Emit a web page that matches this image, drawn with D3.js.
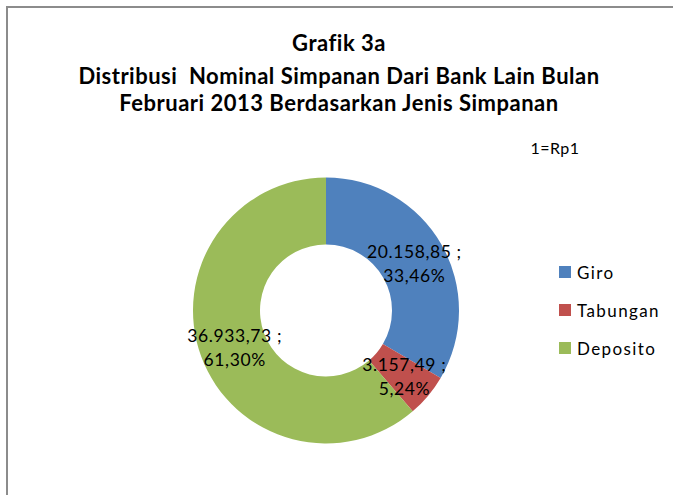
<!DOCTYPE html>
<html>
<head>
<meta charset="utf-8">
<script src="https://cdn.jsdelivr.net/npm/d3@7"></script>
<style>
  body { margin: 0; background: #fff; }
  text { font-family: Lato, "Open Sans", sans-serif; fill: #000; }
</style>
</head>
<body>
<div id="chart"></div>
<script>
var categories = ["Giro", "Tabungan", "Deposito"];
var values = [20158.85, 3157.49, 36933.73];
var colors = ["#4F81BD", "#C0504D", "#9BBB59"];
var titleLines = ["Grafik 3a", "Distribusi  Nominal Simpanan Dari Bank Lain Bulan", "Februari 2013 Berdasarkan Jenis Simpanan"];
var unitNote = "1=Rp1";

var width = 673, height = 495;

var svg = d3.select('#chart')
  .append('svg')
  .attr('width', width)
  .attr('height', height);

// chart area border (top + left visible, rest cut off)
svg.append('path')
  .attr('d', 'M7,' + height + 'V7H' + width)
  .attr('fill', 'none')
  .attr('stroke', '#8c8c8c')
  .attr('stroke-width', 2);

// title
svg.selectAll('.title')
  .data(titleLines)
  .enter()
  .append('text')
  .attr('class', 'title')
  .attr('x', 339)
  .attr('y', function(d, i){ return [51, 84, 111][i]; })
  .attr('text-anchor', 'middle')
  .attr('font-weight', 'bold')
  .attr('font-size', 22)
  .attr('letter-spacing', 0.5)
  .style('white-space', 'pre')
  .text(function(d){ return d; });

svg.append('text')
  .attr('x', 555)
  .attr('y', 154)
  .attr('text-anchor', 'middle')
  .attr('font-size', 16)
  .attr('letter-spacing', 0.5)
  .text(unitNote);

var locale = d3.formatLocale({decimal: ",", thousands: ".", grouping: [3], currency: ["Rp", ""]});
var fmtVal = locale.format(",.2f");
var fmtPct = locale.format(".2%");
var total = d3.sum(values);

var data = categories.map(function(c, i){
  return {name: c, value: values[i], color: colors[i]};
});

var cx = 326, cy = 310.5, outerR = 133, innerR = 66;

var pie = d3.pie()
  .sort(null)
  .value(function(d){ return d.value; });

var arc = d3.arc()
  .innerRadius(innerR)
  .outerRadius(outerR);

var g = svg.append('g')
  .attr('transform', 'translate(' + cx + ',' + cy + ')');

var arcs = pie(data);

g.selectAll('path.slice')
  .data(arcs)
  .enter()
  .append('path')
  .attr('class', 'slice')
  .attr('d', arc)
  .attr('fill', function(d){ return d.data.color; });

// data labels: value ; percent on two lines at slice centroid
var labels = g.selectAll('text.lbl')
  .data(arcs)
  .enter()
  .append('text')
  .attr('class', 'lbl')
  .attr('text-anchor', 'middle')
  .attr('font-size', 17.5)
  .attr('letter-spacing', 0.6)
  .attr('transform', function(d){
    var c = arc.centroid(d);
    return 'translate(' + (c[0] + 2) + ',' + (c[1] + 3) + ')';
  });

labels.append('tspan')
  .attr('x', 0)
  .attr('y', -6)
  .text(function(d){ return fmtVal(d.data.value) + ' ;'; });

labels.append('tspan')
  .attr('x', 0)
  .attr('y', 18)
  .text(function(d){ return fmtPct(d.data.value / total); });

// legend
var legend = svg.selectAll('.legend')
  .data(data)
  .enter()
  .append('g')
  .attr('class', 'legend')
  .attr('transform', function(d, i){ return 'translate(559,' + (266 + i * 38) + ')'; });

legend.append('rect')
  .attr('width', 12)
  .attr('height', 12)
  .attr('fill', function(d){ return d.color; });

legend.append('text')
  .attr('x', 18)
  .attr('y', 12.5)
  .attr('font-size', 17)
  .attr('letter-spacing', 1.4)
  .text(function(d){ return d.name; });
</script>
</body>
</html>
